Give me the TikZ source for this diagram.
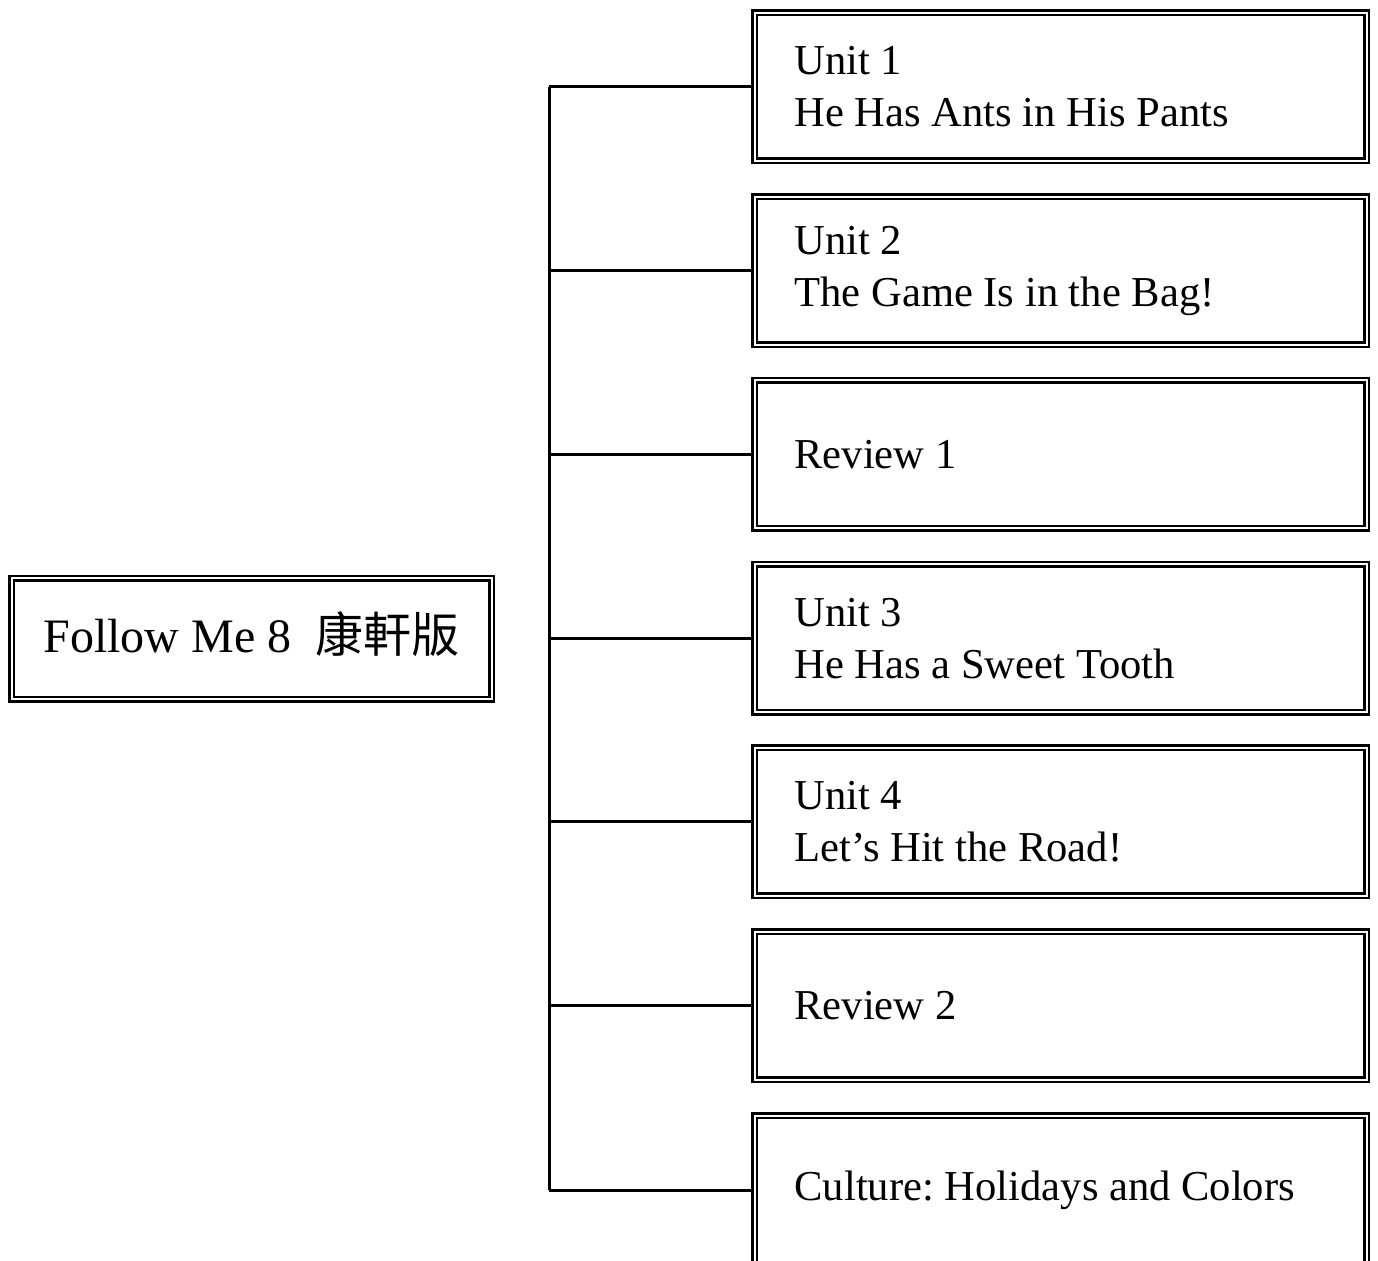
\documentclass[tikz,border=0pt]{standalone}
\usepackage{fontspec}
\setmainfont{Liberation Serif}
\newfontfamily\cjk{Noto Sans CJK TC}
\frenchspacing
\begin{document}
\begin{tikzpicture}[
	x=0.5pt, y=-0.5pt,
	box/.style={draw, double, line width=1.25pt, double distance=1pt},
	unit/.style={box, minimum width=306pt, minimum height=74pt,
		inner xsep=20pt, text width=266pt, align=flush left,
		font=\fontsize{21.3}{26}\selectfont},
	branch/.style={line width=1.5pt}]
   \useasboundingbox (0,0) rectangle (1378,1261);
   \node[box, minimum width=240pt, minimum height=60.5pt,
      text depth=5pt, text height=19pt,
      font=\fontsize{24}{28}\selectfont](follow) at (251.5,639)
      {Follow Me 8\ \ {\cjk 康軒版}};
   \node[unit](unit1) at (1060.5,87) {Unit 1\\He Has Ants in His Pants};
   \node[unit](unit2) at (1060.5,271) {Unit 2\\The Game Is in the Bag!};
   \node[unit](review1) at (1060.5,454.5) {Review 1};
   \node[unit](unit3) at (1060.5,638.5) {Unit 3\\He Has a Sweet Tooth};
   \node[unit](unit4) at (1060.5,822) {Unit 4\\Let's Hit the Road!};
   \node[unit](review2) at (1060.5,1006) {Review 2};
   \node[unit](culture) at (1060.5,1190) {Culture: Holidays and Colors};
   \coordinate (trunk) at (549,0);
   \draw[branch] (unit1.west -| trunk) -- (culture.west -| trunk);
   \foreach \n in {unit1,unit2,review1,unit3,unit4,review2,culture}
      \draw[branch] (\n.west -| trunk) -- (\n.west);
\end{tikzpicture}
\end{document}
